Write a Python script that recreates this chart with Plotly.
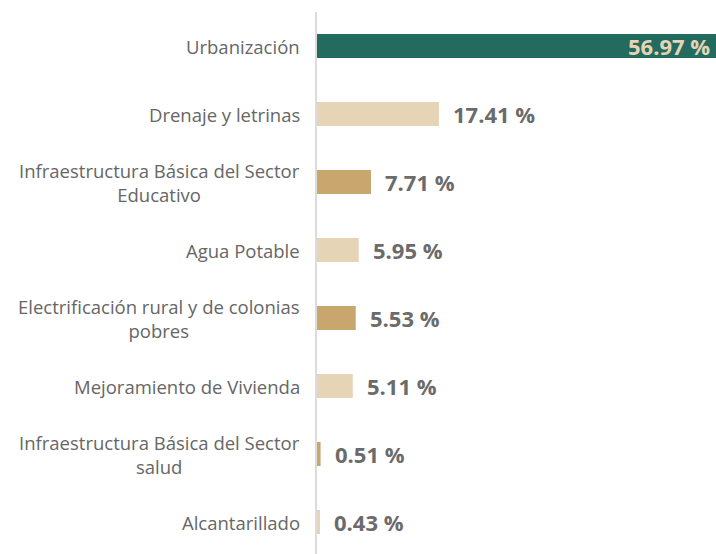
import plotly.graph_objects as go

categorias = [
    "Urbanización",
    "Drenaje y letrinas",
    "Infraestructura Básica del Sector<br>Educativo",
    "Agua Potable",
    "Electrificación rural y de colonias<br>pobres",
    "Mejoramiento de Vivienda",
    "Infraestructura Básica del Sector<br>salud",
    "Alcantarillado",
]
porcentajes = [56.97, 17.41, 7.71, 5.95, 5.53, 5.11, 0.51, 0.43]
colores = ["#236b5e", "#e5d4b5", "#c9a66e", "#e5d4b5", "#c9a66e", "#e5d4b5", "#c9a66e", "#e5d4b5"]

ids = [f"c{i}" for i in range(len(categorias))]

fig = go.Figure(
    go.Bar(
        x=porcentajes,
        y=ids,
        orientation="h",
        marker=dict(color=colores, line=dict(width=0)),
        width=0.355,
        hoverinfo="skip",
    )
)

annotations = []
for i, (cat, val) in enumerate(zip(categorias, porcentajes)):
    # category label, lines centred against each other, right edge near the axis
    annotations.append(dict(
        x=0, xref="paper", y=ids[i], yref="y",
        text=cat, showarrow=False, xanchor="right", align="center",
        xshift=-15, font=dict(family="Open Sans", size=18.5, color="#666666"),
    ))
    texto = f"{val:.2f} %"
    if i == 0:
        annotations.append(dict(
            x=val, xref="x", y=ids[i], yref="y", text=f"<b>{texto}</b>",
            showarrow=False, xanchor="right", xshift=-4,
            font=dict(family="Open Sans", size=22, color="#e5d4b5"),
        ))
    else:
        annotations.append(dict(
            x=val, xref="x", y=ids[i], yref="y", text=f"<b>{texto}</b>",
            showarrow=False, xanchor="left", xshift=12,
            font=dict(family="Open Sans", size=22, color="#6b6b6b"),
        ))

n = len(categorias)
fig.update_layout(
    width=716, height=554,
    margin=dict(l=317, r=0, t=12, b=0),
    paper_bgcolor="white", plot_bgcolor="white",
    showlegend=False,
    annotations=annotations,
    xaxis=dict(range=[0, 56.97], visible=False, fixedrange=True),
    yaxis=dict(
        range=[n - 0.5 - 2 / 68, -0.5], showticklabels=False, ticks="",
        showgrid=False, zeroline=False, showline=True,
        linecolor="#dcdcdc", linewidth=2, fixedrange=True,
    ),
)

fig.write_html("out.html")
